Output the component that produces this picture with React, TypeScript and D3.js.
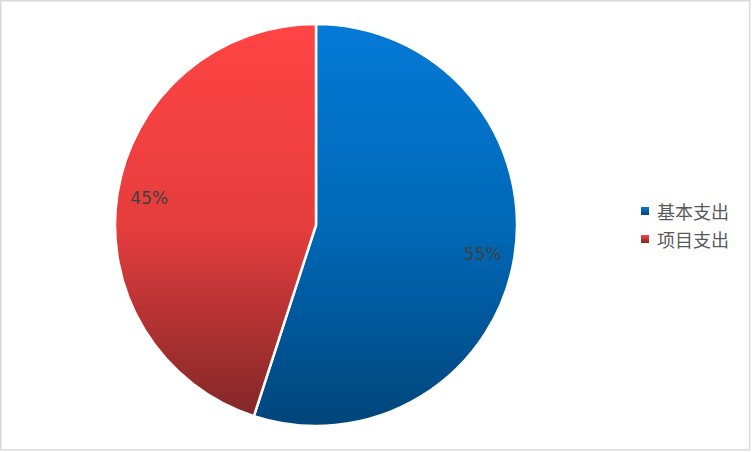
import React from "react";
import * as d3 from "d3";

const categories = ["基本支出", "项目支出"];
const values = [55, 45];
const labels = ["55%", "45%"];
const topColors = ["#0479d6", "#ff4444"];
const midColors = ["#0069b8", "#e63d3d"];
const bottomColors = ["#00457a", "#7c2627"];

const W = 752;
const H = 452;
const cx = 316;
const cy = 225;
const R = 201;

export default function App() {
  const pie = d3.pie<number>().sort(null).value((d) => d)(values);
  const arc = d3.arc<d3.PieArcDatum<number>>().innerRadius(0).outerRadius(R);
  const labelArc = d3.arc<d3.PieArcDatum<number>>().innerRadius(R * 0.84).outerRadius(R * 0.84);
  return (
    <svg width={W} height={H} style={{ position: "absolute", left: 0, top: 0 }}>
      <defs>
        {categories.map((c, i) => (
          <linearGradient key={c} id={`g${i}`} gradientUnits="userSpaceOnUse" x1={0} y1={-R} x2={0} y2={R}>
            <stop offset="0" stopColor={topColors[i]} />
            <stop offset="0.5" stopColor={midColors[i]} />
            <stop offset="1" stopColor={bottomColors[i]} />
          </linearGradient>
        ))}
        {categories.map((c, i) => (
          <linearGradient key={c + "l"} id={`lg${i}`} x1={0} y1={0} x2={0} y2={1}>
            <stop offset="0" stopColor={topColors[i]} />
            <stop offset="1" stopColor={bottomColors[i]} />
          </linearGradient>
        ))}
      </defs>
      <rect x={0.75} y={0.75} width={W - 3} height={H - 3} fill="#fff" stroke="#d9d9d9" strokeWidth={1.5} />
      <g transform={`translate(${cx},${cy})`}>
        {pie.map((p, i) => (
          <path key={i} d={arc(p) || ""} fill={`url(#g${i})`} stroke="#fff" strokeWidth={2.5} strokeLinejoin="round" />
        ))}
        {pie.map((p, i) => {
          const [x, y] = labelArc.centroid(p);
          return (
            <text key={i} x={x} y={y + (i === 0 ? 3 : -1)} textAnchor="middle" dominantBaseline="central" fontFamily="DejaVu Sans" fontSize={17} fill="#404040">
              {labels[i]}
            </text>
          );
        })}
      </g>
      {categories.map((c, i) => (
        <g key={c} transform={`translate(641,${207 + i * 28})`}>
          <rect x={0} y={0} width={8} height={8} fill={`url(#lg${i})`} />
          <text x={16} y={4} dominantBaseline="central" fontFamily="Noto Sans CJK SC" fontSize={18} fill="#595959">
            {c}
          </text>
        </g>
      ))}
    </svg>
  );
}
